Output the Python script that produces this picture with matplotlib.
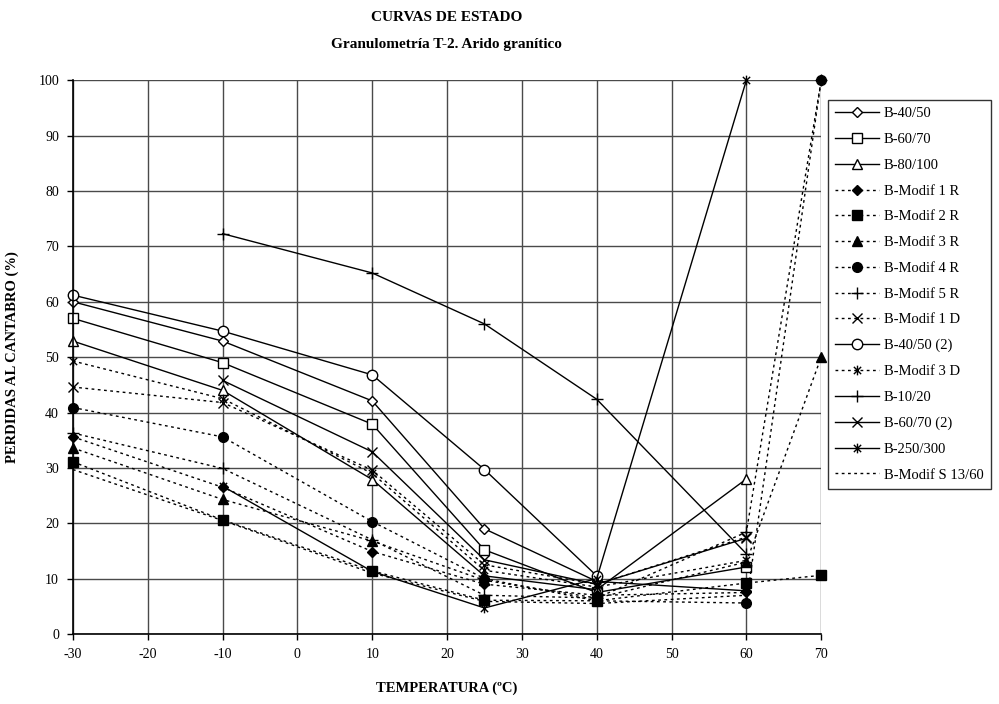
import numpy as np
import matplotlib
matplotlib.use("Agg")
import matplotlib.pyplot as plt
from matplotlib.path import Path

nan = np.nan
temps = [-30, -10, 10, 25, 40, 60, 70]

b40_50 = [60.0, 52.9, 42.1, 19.0, 9.5, 7.8, nan]
b60_70 = [57.0, 49.0, 37.9, 15.2, 7.5, 12.1, nan]
b80_100 = [52.9, 44.0, 27.9, 10.5, 8.0, 28.0, nan]
modif1r = [35.6, 26.5, 14.9, 9.0, 7.0, 7.5, nan]
modif2r = [31.1, 20.6, 11.4, 6.1, 6.0, 9.2, 10.6]
modif3r = [33.6, 24.3, 16.8, 9.7, 6.5, 13.0, 50.0]
modif4r = [40.9, 35.6, 20.3, 10.0, 6.0, 5.6, 100.0]
modif5r = [36.3, 29.9, 17.0, 7.0, 6.5, 18.4, 100.0]
modif1d = [44.6, 41.8, 29.6, 12.5, 9.0, 17.5, nan]
b40_50_2 = [61.2, 54.7, 46.8, 29.7, 10.5, nan, nan]
modif3d = [49.3, 42.5, 29.0, 11.5, 8.5, 13.3, nan]
b10_20 = [nan, 72.3, 65.2, 56.0, 42.4, 14.5, nan]
b60_70_2 = [nan, 45.8, 32.9, 13.4, 9.0, 17.3, nan]
b250_300 = [nan, 26.7, 11.3, 4.7, 10.0, 100.0, nan]
modif_s = [29.7, 20.5, 11.0, 5.9, 5.5, 7.0, nan]

# excel-style star: vertical bar + X
star = Path([(0, -1), (0, 1), (-0.75, -0.75), (0.75, 0.75), (-0.75, 0.75), (0.75, -0.75)],
            [Path.MOVETO, Path.LINETO, Path.MOVETO, Path.LINETO, Path.MOVETO, Path.LINETO])

dots = (0, (2, 2.5))
series = [
    ("B-40/50", b40_50, "-", "D", "white", 5),
    ("B-60/70", b60_70, "-", "s", "white", 6.5),
    ("B-80/100", b80_100, "-", "^", "white", 6.5),
    ("B-Modif 1 R", modif1r, dots, "D", "black", 5),
    ("B-Modif 2 R", modif2r, dots, "s", "black", 6.5),
    ("B-Modif 3 R", modif3r, dots, "^", "black", 6.5),
    ("B-Modif 4 R", modif4r, dots, "o", "black", 7),
    ("B-Modif 5 R", modif5r, dots, "+", "black", 8),
    ("B-Modif 1 D", modif1d, dots, "x", "black", 7),
    ("B-40/50 (2)", b40_50_2, "-", "o", "white", 7.5),
    ("B-Modif 3 D", modif3d, dots, star, "black", 7),
    ("B-10/20", b10_20, "-", "+", "black", 8),
    ("B-60/70 (2)", b60_70_2, "-", "x", "black", 7),
    ("B-250/300", b250_300, "-", star, "black", 7),
    ("B-Modif S 13/60", modif_s, dots, "None", "black", 6),
]

plt.rcParams["font.family"] = ["Liberation Serif", "DejaVu Serif"]
plt.rcParams["axes.unicode_minus"] = False
fig = plt.figure(figsize=(9.99, 7.04), dpi=100)
ax = fig.add_axes([0.073, 0.0994, 0.749, 0.7866])

for lab, vals, ls, mk, fc, ms in series:
    ax.plot(temps, vals, linestyle=ls, color="black", lw=1.0, marker=mk, markersize=ms,
            markerfacecolor=fc, markeredgecolor="black", markeredgewidth=1.0, label=lab,
            clip_on=False)

ax.set_xlim(-30, 70); ax.set_ylim(0, 100)
ax.set_xticks(range(-30, 71, 10)); ax.set_yticks(range(0, 101, 10))
ax.grid(True, color="#4a4a4a", lw=1.0)
ax.set_axisbelow(True)
for s in ["top", "right"]:
    ax.spines[s].set_visible(False)
for s in ["left", "bottom"]:
    ax.spines[s].set_linewidth(1.2)
ax.tick_params(direction="out", length=4, width=1, labelsize=10, pad=6)

ax.set_xlabel("TEMPERATURA (ºC)", fontsize=10.5, fontweight="bold", labelpad=15)
ax.set_ylabel("PERDIDAS AL CANTABRO (%)", fontsize=10.5, fontweight="bold", labelpad=14)
fig.text(0.447, 0.985, "CURVAS DE ESTADO", ha="center", va="top", fontsize=11, fontweight="bold")
fig.text(0.447, 0.946, "Granulometría T-2. Arido granítico", ha="center", va="top",
         fontsize=11, fontweight="bold")

leg = fig.legend(loc="upper left", bbox_to_anchor=(0.829, 0.858), fontsize=10.5,
                 handlelength=3.0, labelspacing=0.86, frameon=True, fancybox=False,
                 borderpad=0.5, handletextpad=0.3, borderaxespad=0)
leg.get_frame().set_edgecolor("black"); leg.get_frame().set_linewidth(1.0)

fig.savefig("out.png", dpi=100)
